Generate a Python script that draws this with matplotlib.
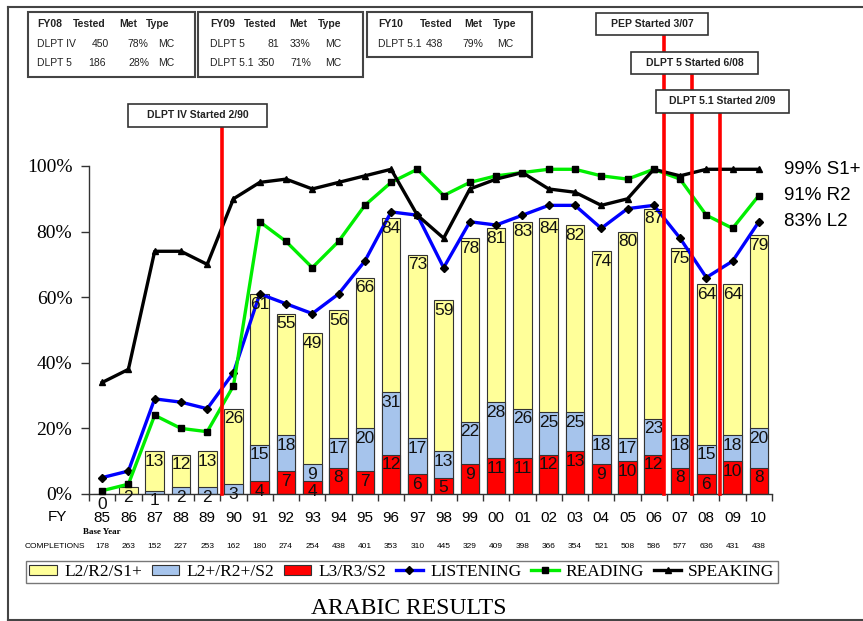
import numpy as np
import matplotlib
matplotlib.use("Agg")
import matplotlib.pyplot as plt
from matplotlib.patches import Patch, Rectangle
from matplotlib.lines import Line2D

plt.rcParams["font.family"] = "Liberation Sans"

# ---------------------------------------------------------------------------
# Data
# ---------------------------------------------------------------------------
years = ["85", "86", "87", "88", "89", "90", "91", "92", "93", "94", "95", "96", "97",
         "98", "99", "00", "01", "02", "03", "04", "05", "06", "07", "08", "09", "10"]
completions = [178, 263, 152, 227, 253, 162, 180, 274, 254, 438, 401, 353, 310,
               445, 329, 409, 398, 366, 354, 521, 508, 586, 577, 636, 431, 438]

# bar heights (% at or above each level)
l2_r2_s1 = [0, 2, 13, 12, 13, 26, 61, 55, 49, 56, 66, 84, 73,
            59, 78, 81, 83, 84, 82, 74, 80, 87, 75, 64, 64, 79]
l2p_r2p_s2 = [None, None, 1, 2, 2, 3, 15, 18, 9, 17, 20, 31, 17,
              13, 22, 28, 26, 25, 25, 18, 17, 23, 18, 15, 18, 20]
l3_r3_s2 = [None, None, None, None, None, None, 4, 7, 4, 8, 7, 12, 6,
            5, 9, 11, 11, 12, 13, 9, 10, 12, 8, 6, 10, 8]

listening = [5, 7, 29, 28, 26, 37, 61, 58, 55, 61, 71, 86, 85,
             69, 83, 82, 85, 88, 88, 81, 87, 88, 78, 66, 71, 83]
reading = [1, 3, 24, 20, 19, 33, 83, 77, 69, 77, 88, 95, 99,
           91, 95, 97, 98, 99, 99, 97, 96, 99, 96, 85, 81, 91]
speaking = [34, 38, 74, 74, 70, 90, 95, 96, 93, 95, 97, 99, 85,
            78, 93, 96, 98, 93, 92, 88, 90, 99, 97, 99, 99, 99]

end_labels = ["99% S1+", "91% R2", "83% L2"]
end_values = [99, 91, 83]

# program events: label, position on the year axis (index units)
events = ["DLPT IV Started 2/90", "PEP Started 3/07", "DLPT 5 Started 6/08", "DLPT 5.1 Started 2/09"]
event_pos = [4.55, 21.38, 22.45, 23.51]

# test tables at the top
tables = [
    [["FY08", "Tested", "Met", "Type"], ["DLPT IV", "450", "78%", "MC"], ["DLPT 5", "186", "28%", "MC"]],
    [["FY09", "Tested", "Met", "Type"], ["DLPT 5", "81", "33%", "MC"], ["DLPT 5.1", "350", "71%", "MC"]],
    [["FY10", "Tested", "Met", "Type"], ["DLPT 5.1", "438", "79%", "MC"]],
]

# ---------------------------------------------------------------------------
# Figure
# ---------------------------------------------------------------------------
W, H = 863, 621
fig = plt.figure(figsize=(W / 100, H / 100), dpi=100)


def px(x, y):
    return x / W, 1 - y / H


ax = fig.add_axes([89 / W, 1 - 494 / H, (772 - 89) / W, (494 - 166) / H])
x = np.arange(len(years))

YELLOW = "#FFFF99"
LBLUE = "#A6C4EC"
RED = "#FF0000"
EDGE = "#333333"


def clean(vals):
    return [(i, v) for i, v in enumerate(vals) if v is not None]


for vals, col in [(l2_r2_s1, YELLOW), (l2p_r2p_s2, LBLUE), (l3_r3_s2, RED)]:
    pts = clean(vals)
    ax.bar([p[0] for p in pts], [p[1] for p in pts], width=0.71, color=col,
           edgecolor=EDGE, linewidth=0.8, zorder=2)
    for i, v in pts:
        ax.text(i, v - 0.8, str(v), ha="center", va="top", fontsize=12.5,
                color="#111111", zorder=5, clip_on=False)

ax.plot(x, listening, color="#0000FF", lw=2.4, marker="D", ms=4,
        mfc="black", mec="black", zorder=4, clip_on=False)
ax.plot(x, reading, color="#00EE00", lw=2.4, marker="s", ms=5,
        mfc="black", mec="black", zorder=4, clip_on=False)
ax.plot(x, speaking, color="black", lw=2.4, marker="^", ms=4,
        mfc="black", mec="black", zorder=4, clip_on=False)

for lab, v in zip(end_labels, end_values):
    ax.text(25.95, v, lab, ha="left", va="center", fontsize=13.5, clip_on=False)

ax.set_xlim(-0.5, 25.5)
ax.set_ylim(0, 100)
for s in ["top", "right"]:
    ax.spines[s].set_visible(False)
for s in ["left", "bottom"]:
    ax.spines[s].set_color("#333333")
    ax.spines[s].set_linewidth(1.0)

ax.set_yticks(np.arange(0, 101, 20))
ax.set_yticklabels([f"{v}%" for v in range(0, 101, 20)],
                   fontfamily="Liberation Serif", fontsize=14)
ax.tick_params(axis="y", length=6, width=1, color="#333333", pad=6)

ax.set_xticks(np.arange(-0.5, 26, 1))
ax.set_xticklabels([])
ax.tick_params(axis="x", which="major", length=5, width=1, color="#333333", direction="out")
ax.set_xticks(x, minor=True)
ax.set_xticklabels(years, minor=True, fontsize=11)
ax.tick_params(axis="x", which="minor", length=0, pad=12)

xt = ax.get_xaxis_transform()
ax.text(-1.71, -0.069, "FY", transform=xt, ha="center", va="center", fontsize=11)
ax.text(0, -0.116, "Base Year", transform=xt, ha="center", va="center",
        fontsize=6.5, fontfamily="Liberation Serif", fontweight="bold")
ax.text(-1.8, -0.161, "COMPLETIONS", transform=xt, ha="center", va="center", fontsize=6)
for i, c in enumerate(completions):
    ax.text(i, -0.161, str(c), transform=xt, ha="center", va="center", fontsize=6)

# event lines and boxes
box_px = [(128, 104, 267, 127), (596, 13, 708, 35), (631, 52, 758, 74), (656, 90, 789, 113)]
for lab, pos, (x0, y0, x1, y1) in zip(events, event_pos, box_px):
    top = (494 - y1) / 3.28
    ax.plot([pos, pos], [0, top], color="#FF0000", lw=2.6, zorder=6, clip_on=False)
    r = Rectangle(px(x0, y1), (x1 - x0) / W, (y1 - y0) / H, transform=fig.transFigure,
                  facecolor="white", edgecolor="#333333", lw=1.2)
    fig.patches.append(r)
    fig.text(*px((x0 + x1) / 2, (y0 + y1) / 2), lab, ha="center", va="center",
             fontsize=7.5, fontweight="bold", color="#222222")

# tables
table_boxes = [(28, 12, 195, 77), (198, 12, 363, 77), (367, 12, 532, 57)]
col_x = [[37, 73, 119, 146], [210, 244, 289, 318], [378, 420, 464, 493]]
row_col_x = [[[37, 92, 127, 158], [37, 88, 128, 158]],
             [[210, 268, 290, 325], [210, 258, 290, 325]],
             [[378, 426, 462, 497]]]
row_y = [24, 44, 63]
for tb, (x0, y0, x1, y1), hx, rx in zip(tables, table_boxes, col_x, row_col_x):
    r = Rectangle(px(x0, y1), (x1 - x0) / W, (y1 - y0) / H, transform=fig.transFigure,
                  facecolor="white", edgecolor="#444444", lw=1.5)
    fig.patches.append(r)
    for j, cell in enumerate(tb[0]):
        fig.text(*px(hx[j], row_y[0]), cell, ha="left", va="center", fontsize=7.5,
                 fontweight="bold", color="#222222")
    for k, row in enumerate(tb[1:]):
        for j, cell in enumerate(row):
            fig.text(*px(rx[k][j], row_y[k + 1]), cell, ha="left", va="center",
                     fontsize=7.5, color="#222222")

# legend
handles = [
    Patch(facecolor=YELLOW, edgecolor=EDGE, lw=0.8),
    Patch(facecolor=LBLUE, edgecolor=EDGE, lw=0.8),
    Patch(facecolor=RED, edgecolor=EDGE, lw=0.8),
    Line2D([], [], color="#0000FF", lw=2.4, marker="D", ms=4, mfc="black", mec="black"),
    Line2D([], [], color="#00EE00", lw=2.4, marker="s", ms=5, mfc="black", mec="black"),
    Line2D([], [], color="black", lw=2.4, marker="^", ms=4, mfc="black", mec="black"),
]
labels = ["L2/R2/S1+", "L2+/R2+/S2", "L3/R3/S2", "LISTENING", "READING", "SPEAKING"]
leg = fig.legend(handles, labels, loc="center", bbox_to_anchor=px(402, 572), ncol=6,
                 prop={"family": "Liberation Serif", "size": 12.5}, frameon=True,
                 fancybox=False, edgecolor="#555555", handlelength=1.6, handleheight=0.5,
                 handletextpad=0.4, columnspacing=0.55, borderpad=0.2)
leg.get_frame().set_linewidth(1.0)

fig.text(*px(409, 609), "ARABIC RESULTS", ha="center", va="center",
         fontfamily="Liberation Serif", fontsize=17)

# outer frame
for xs, ys in [([8, 8], [7, 620]), ([8, 863], [7, 7]), ([8, 863], [620, 620])]:
    fig.lines.append(Line2D([v / W for v in xs], [1 - v / H for v in ys],
                            transform=fig.transFigure, color="#444444", lw=1.5))

fig.savefig("out.png", dpi=100)
